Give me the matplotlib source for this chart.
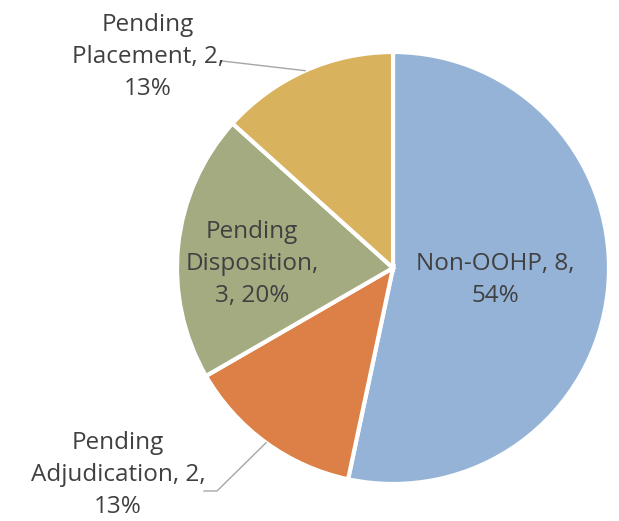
import numpy as np
import matplotlib.pyplot as plt

categories = ["Non-OOHP", "Pending Adjudication", "Pending Disposition", "Pending Placement"]
counts = [8, 2, 3, 2]
percents = ["54%", "13%", "20%", "13%"]
colors = ["#95B3D7", "#DD8047", "#A5AB81", "#D8B25C"]

W, H = 619, 521
cx, cy, r = 393, 521 - 268, 216

fig = plt.figure(figsize=(W / 100, H / 100), dpi=100)
ax = fig.add_axes([0, 0, 1, 1])

wedges, _ = ax.pie(counts, colors=colors, startangle=90, counterclock=False,
                   center=(cx, cy), radius=r, frame=True,
                   wedgeprops=dict(edgecolor="white", linewidth=3))
ax.set_xlim(0, W)
ax.set_ylim(0, H)
ax.set_aspect("equal")
ax.axis("off")

tc = "#404040"
fs = 17.5
fam = ["Open Sans", "DejaVu Sans"]
ls = 1.45


def label(x, y_last_baseline, s):
    # va="baseline" lines up the last line's baseline
    ax.text(x, H - y_last_baseline, s, ha="center", va="baseline", multialignment="center",
            fontsize=fs, color=tc, family=fam, linespacing=ls)


# inside labels
label(495, 302, "Non-OOHP, %d,\n%s" % (counts[0], percents[0]))
label(252, 302, "Pending\nDisposition,\n%d, %s" % (counts[2], percents[2]))

# outside labels
label(148, 95, "Pending\nPlacement, %d,\n%s" % (counts[3], percents[3]))
label(118, 513, "Pending\nAdjudication, %d,\n%s" % (counts[1], percents[1]))


def edge_point(w):
    a = np.deg2rad((w.theta1 + w.theta2) / 2)
    return cx + r * np.cos(a), cy + r * np.sin(a)


px, py = edge_point(wedges[3])
ax.plot([222, px], [H - 61, py], color="#A6A6A6", lw=1)
qx, qy = edge_point(wedges[1])
ax.plot([204, 217, qx], [H - 491, H - 491, qy], color="#A6A6A6", lw=1)

fig.savefig("out.png", dpi=100)
